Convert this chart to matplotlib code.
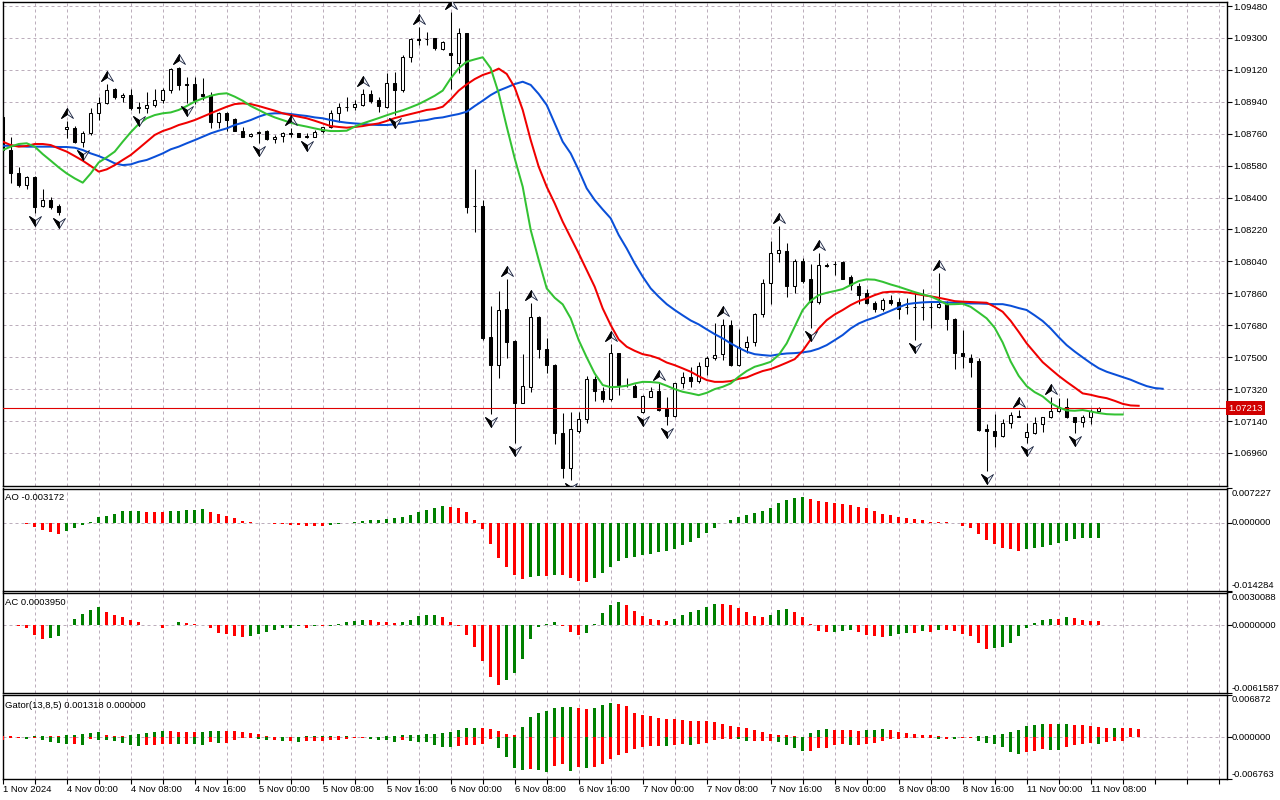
import numpy as np
import matplotlib.pyplot as plt
from matplotlib.path import Path

plt.rcParams['font.family'] = ['Liberation Sans', 'DejaVu Sans']

# ---------------- data (EURUSD H1) ----------------
opens = [1.08854, 1.08668, 1.08537, 1.08471, 1.08518, 1.08353, 1.08387, 1.08353, 1.08785, 1.08793,
         1.08715, 1.08762, 1.08875, 1.08932, 1.09010, 1.08965, 1.08978, 1.08909, 1.08903, 1.08920,
         1.08950, 1.09007, 1.09131, 1.09039, 1.09039, 1.08984, 1.08978, 1.08828, 1.08875, 1.08841,
         1.08777, 1.08747, 1.08762, 1.08774, 1.08732, 1.08747, 1.08762, 1.08762, 1.08744, 1.08744,
         1.08776, 1.08800, 1.08875, 1.08909, 1.08909, 1.08922, 1.08982, 1.08950, 1.08913, 1.09044,
         1.09007, 1.09191, 1.09292, 1.09296, 1.09298, 1.09236, 1.09217, 1.09161, 1.09326, 1.08355,
         1.08355, 1.07613, 1.07455, 1.07770, 1.07592, 1.07244, 1.07334, 1.07725, 1.07545, 1.07458,
         1.07075, 1.06878, 1.07086, 1.07150, 1.07376, 1.07308, 1.07267, 1.07522, 1.07346, 1.07338,
         1.07193, 1.07278, 1.07310, 1.07207, 1.07171, 1.07357, 1.07391, 1.07368, 1.07453, 1.07494,
         1.07517, 1.07680, 1.07455, 1.07556, 1.07584, 1.07742, 1.07917, 1.08086, 1.08101, 1.07902,
         1.08041, 1.07939, 1.07812, 1.08018, 1.08026, 1.08037, 1.07951, 1.07902, 1.07860, 1.07808,
         1.07774, 1.07823, 1.07812, 1.07785, 1.07785, 1.07783, 1.07782, 1.07782, 1.07800, 1.07718,
         1.07522, 1.07494, 1.07479, 1.07096, 1.07083, 1.07056, 1.07128, 1.07169, 1.07049, 1.07071,
         1.07122, 1.07161, 1.07195, 1.07222, 1.07161, 1.07133, 1.07165, 1.07199]
highs = [1.08866, 1.08744, 1.08575, 1.08522, 1.08522, 1.08449, 1.08405, 1.08364, 1.08834, 1.08804,
         1.08777, 1.08903, 1.08969, 1.09041, 1.09016, 1.08988, 1.09010, 1.08941, 1.08997, 1.09010,
         1.09016, 1.09131, 1.09138, 1.09082, 1.09078, 1.09074, 1.08997, 1.08885, 1.08885, 1.08849,
         1.08800, 1.08766, 1.08777, 1.08781, 1.08753, 1.08772, 1.08791, 1.08766, 1.08762, 1.08781,
         1.08800, 1.08894, 1.08932, 1.08965, 1.08950, 1.09010, 1.09007, 1.08969, 1.09101, 1.09110,
         1.09204, 1.09298, 1.09360, 1.09332, 1.09302, 1.09285, 1.09448, 1.09354, 1.09330, 1.08560,
         1.08387, 1.07789, 1.07874, 1.07939, 1.07597, 1.07518, 1.07808, 1.07733, 1.07611, 1.07462,
         1.07188, 1.07193, 1.07193, 1.07394, 1.07394, 1.07334, 1.07573, 1.07526, 1.07381, 1.07349,
         1.07286, 1.07334, 1.07357, 1.07278, 1.07350, 1.07419, 1.07447, 1.07475, 1.07504, 1.07695,
         1.07714, 1.07710, 1.07659, 1.07620, 1.07748, 1.07939, 1.08157, 1.08240, 1.08146, 1.08052,
         1.08058, 1.08026, 1.08086, 1.08030, 1.08045, 1.08045, 1.07962, 1.07917, 1.07887, 1.07819,
         1.07832, 1.07851, 1.07832, 1.07832, 1.07870, 1.07887, 1.07814, 1.07973, 1.07819, 1.07722,
         1.07654, 1.07517, 1.07498, 1.07124, 1.07180, 1.07150, 1.07190, 1.07203, 1.07128, 1.07161,
         1.07165, 1.07278, 1.07269, 1.07269, 1.07165, 1.07175, 1.07210, 1.07218]
lows = [1.08659, 1.08484, 1.08462, 1.08451, 1.08311, 1.08349, 1.08334, 1.08302, 1.08734, 1.08706,
        1.08687, 1.08753, 1.08838, 1.08928, 1.08958, 1.08941, 1.08894, 1.08875, 1.08879, 1.08913,
        1.08932, 1.08988, 1.09007, 1.08932, 1.08928, 1.08950, 1.08791, 1.08794, 1.08777, 1.08774,
        1.08740, 1.08740, 1.08706, 1.08725, 1.08710, 1.08715, 1.08744, 1.08740, 1.08734, 1.08740,
        1.08762, 1.08791, 1.08828, 1.08890, 1.08894, 1.08917, 1.08932, 1.08885, 1.08903, 1.08866,
        1.08997, 1.09166, 1.09260, 1.09260, 1.09232, 1.09232, 1.09010, 1.09104, 1.08311, 1.08204,
        1.07597, 1.07180, 1.07381, 1.07494, 1.07015, 1.07240, 1.07306, 1.07494, 1.07410, 1.07009,
        1.06818, 1.06808, 1.07071, 1.07131, 1.07255, 1.07250, 1.07255, 1.07287, 1.07334, 1.07274,
        1.07184, 1.07274, 1.07199, 1.07118, 1.07165, 1.07325, 1.07334, 1.07353, 1.07400, 1.07485,
        1.07485, 1.07451, 1.07451, 1.07522, 1.07564, 1.07729, 1.07800, 1.08039, 1.07838, 1.07860,
        1.07917, 1.07663, 1.07800, 1.08007, 1.07964, 1.07939, 1.07879, 1.07800, 1.07800, 1.07757,
        1.07763, 1.07795, 1.07714, 1.07744, 1.07597, 1.07710, 1.07663, 1.07778, 1.07654, 1.07436,
        1.07438, 1.07391, 1.07086, 1.06861, 1.06991, 1.07049, 1.07100, 1.07161, 1.07015, 1.07066,
        1.07077, 1.07156, 1.07190, 1.07156, 1.07071, 1.07105, 1.07122, 1.07195]
closes = [1.08668, 1.08537, 1.08471, 1.08514, 1.08349, 1.08387, 1.08349, 1.08321, 1.08796, 1.08715,
          1.08762, 1.08875, 1.08932, 1.09007, 1.08965, 1.08977, 1.08903, 1.08905, 1.08920, 1.08950,
          1.09007, 1.09127, 1.09035, 1.09033, 1.08950, 1.08973, 1.08828, 1.08875, 1.08838, 1.08777,
          1.08744, 1.08759, 1.08772, 1.08729, 1.08744, 1.08762, 1.08760, 1.08744, 1.08745, 1.08772,
          1.08796, 1.08875, 1.08909, 1.08910, 1.08926, 1.08982, 1.08947, 1.08917, 1.09044, 1.09007,
          1.09191, 1.09292, 1.09289, 1.09292, 1.09242, 1.09279, 1.09204, 1.09326, 1.08349, 1.08353,
          1.07611, 1.07458, 1.07765, 1.07588, 1.07240, 1.07338, 1.07725, 1.07545, 1.07458, 1.07075,
          1.06874, 1.07094, 1.07150, 1.07376, 1.07308, 1.07267, 1.07522, 1.07344, 1.07342, 1.07278,
          1.07282, 1.07310, 1.07203, 1.07171, 1.07357, 1.07391, 1.07368, 1.07453, 1.07494, 1.07513,
          1.07680, 1.07455, 1.07560, 1.07584, 1.07742, 1.07917, 1.08086, 1.08103, 1.07902, 1.08041,
          1.07932, 1.07814, 1.08018, 1.08016, 1.08025, 1.07943, 1.07906, 1.07851, 1.07808, 1.07774,
          1.07823, 1.07808, 1.07770, 1.07784, 1.07783, 1.07782, 1.07781, 1.07800, 1.07714, 1.07522,
          1.07504, 1.07475, 1.07090, 1.07083, 1.07058, 1.07128, 1.07173, 1.07165, 1.07077, 1.07128,
          1.07161, 1.07195, 1.07222, 1.07161, 1.07133, 1.07165, 1.07197, 1.07213]

# Alligator (jaw shifted 8, teeth 5, lips 3 bars into the future)
jaw = [1.08692, 1.08692, 1.08691, 1.08687, 1.08687, 1.08687, 1.08687, 1.08685, 1.08685, 1.08681,
       1.08668, 1.08649, 1.08634, 1.08615, 1.08593, 1.08583, 1.08587, 1.08602, 1.08612, 1.08630,
       1.08649, 1.08672, 1.08687, 1.08706, 1.08724, 1.08743, 1.08762, 1.08777, 1.08790, 1.08809,
       1.08822, 1.08837, 1.08856, 1.08871, 1.08875, 1.08875, 1.08871, 1.08865, 1.08860, 1.08852,
       1.08847, 1.08837, 1.08828, 1.08822, 1.08818, 1.08815, 1.08811, 1.08809, 1.08809, 1.08813,
       1.08818, 1.08824, 1.08832, 1.08837, 1.08847, 1.08852, 1.08862, 1.08871, 1.08884, 1.08916,
       1.08946, 1.08978, 1.09003, 1.09021, 1.09040, 1.09053, 1.09035, 1.08984, 1.08922, 1.08818,
       1.08715, 1.08649, 1.08555, 1.08452, 1.08386, 1.08333, 1.08283, 1.08189, 1.08113, 1.08029,
       1.07954, 1.07888, 1.07841, 1.07799, 1.07766, 1.07736, 1.07707, 1.07685, 1.07657, 1.07630,
       1.07606, 1.07578, 1.07553, 1.07531, 1.07517, 1.07512, 1.07508, 1.07516, 1.07521, 1.07523,
       1.07527, 1.07534, 1.07548, 1.07568, 1.07596, 1.07625, 1.07662, 1.07690, 1.07709, 1.07724,
       1.07743, 1.07762, 1.07781, 1.07799, 1.07805, 1.07809, 1.07811, 1.07811, 1.07809, 1.07807,
       1.07805, 1.07803, 1.07803, 1.07801, 1.07799, 1.07799, 1.07790, 1.07777, 1.07766, 1.07736,
       1.07704, 1.07662, 1.07613, 1.07568, 1.07532, 1.07499, 1.07467, 1.07438, 1.07418, 1.07403,
       1.07388, 1.07373, 1.07354, 1.07337, 1.07326, 1.07322]
teeth = [1.08715, 1.08696, 1.08687, 1.08691, 1.08702, 1.08702, 1.08696, 1.08677, 1.08659, 1.08634,
         1.08608, 1.08578, 1.08546, 1.08559, 1.08583, 1.08612, 1.08640, 1.08677, 1.08715, 1.08753,
         1.08775, 1.08790, 1.08809, 1.08822, 1.08837, 1.08856, 1.08875, 1.08894, 1.08912, 1.08927,
         1.08931, 1.08927, 1.08916, 1.08903, 1.08890, 1.08875, 1.08865, 1.08856, 1.08847, 1.08833,
         1.08818, 1.08803, 1.08798, 1.08794, 1.08798, 1.08803, 1.08811, 1.08818, 1.08832, 1.08848,
         1.08860, 1.08871, 1.08882, 1.08894, 1.08899, 1.08912, 1.08954, 1.09003, 1.09038, 1.09068,
         1.09091, 1.09106, 1.09127, 1.09097, 1.09021, 1.08894, 1.08724, 1.08574, 1.08461, 1.08367,
         1.08264, 1.08175, 1.08085, 1.07991, 1.07897, 1.07775, 1.07681, 1.07600, 1.07559, 1.07536,
         1.07517, 1.07508, 1.07493, 1.07470, 1.07455, 1.07437, 1.07418, 1.07393, 1.07371, 1.07361,
         1.07361, 1.07365, 1.07378, 1.07386, 1.07405, 1.07422, 1.07433, 1.07450, 1.07469, 1.07489,
         1.07536, 1.07600, 1.07662, 1.07709, 1.07741, 1.07766, 1.07794, 1.07816, 1.07831, 1.07850,
         1.07865, 1.07869, 1.07869, 1.07865, 1.07858, 1.07850, 1.07843, 1.07835, 1.07826, 1.07816,
         1.07813, 1.07811, 1.07809, 1.07807, 1.07784, 1.07756, 1.07705, 1.07643, 1.07578, 1.07525,
         1.07472, 1.07433, 1.07395, 1.07361, 1.07329, 1.07296, 1.07288, 1.07277, 1.07269, 1.07254,
         1.07237, 1.07228, 1.07226]
lips = [1.08668, 1.08687, 1.08702, 1.08706, 1.08687, 1.08645, 1.08608, 1.08570, 1.08536, 1.08508,
        1.08484, 1.08536, 1.08598, 1.08627, 1.08659, 1.08715, 1.08768, 1.08815, 1.08847, 1.08865,
        1.08875, 1.08880, 1.08894, 1.08916, 1.08941, 1.08959, 1.08974, 1.08984, 1.08988, 1.08969,
        1.08946, 1.08916, 1.08894, 1.08871, 1.08852, 1.08837, 1.08822, 1.08809, 1.08800, 1.08790,
        1.08781, 1.08775, 1.08775, 1.08777, 1.08800, 1.08818, 1.08833, 1.08848, 1.08864, 1.08879,
        1.08892, 1.08909, 1.08927, 1.08950, 1.08974, 1.09003, 1.09072, 1.09129, 1.09166, 1.09179,
        1.09191, 1.09129, 1.08988, 1.08800, 1.08621, 1.08461, 1.08217, 1.08048, 1.07888, 1.07835,
        1.07798, 1.07719, 1.07596, 1.07499, 1.07408, 1.07343, 1.07331, 1.07333, 1.07339, 1.07352,
        1.07361, 1.07360, 1.07356, 1.07339, 1.07320, 1.07305, 1.07296, 1.07286, 1.07299, 1.07320,
        1.07333, 1.07352, 1.07390, 1.07422, 1.07446, 1.07459, 1.07474, 1.07512, 1.07578, 1.07672,
        1.07766, 1.07818, 1.07850, 1.07863, 1.07873, 1.07884, 1.07907, 1.07929, 1.07939, 1.07937,
        1.07925, 1.07910, 1.07897, 1.07882, 1.07867, 1.07854, 1.07843, 1.07822, 1.07798, 1.07799,
        1.07801, 1.07784, 1.07752, 1.07719, 1.07666, 1.07583, 1.07476, 1.07395, 1.07337, 1.07303,
        1.07279, 1.07241, 1.07217, 1.07200, 1.07198, 1.07202, 1.07194, 1.07185, 1.07179, 1.07177,
        1.07177]

fractal_up = [8, 13, 22, 36, 45, 52, 56, 63, 66, 76, 82, 90, 97, 102, 117, 127, 131]
fractal_down = [4, 7, 10, 17, 23, 32, 38, 49, 61, 64, 71, 80, 83, 101, 114, 123, 128, 134]

ao = [-0.000035, -0.000070, -0.000105, -0.000352, -0.000984, -0.001617, -0.002039, -0.002461, -0.001758, -0.001195,
      -0.000562, 0.000211, 0.001265, 0.001476, 0.001898, 0.002390, 0.002531, 0.002566, 0.002355, 0.002320,
      0.002285, 0.002390, 0.002531, 0.002671, 0.002742, 0.002812, 0.002320, 0.001898, 0.001476, 0.001055,
      0.000422, 0.000211, 0.000035, -0.000070, -0.000281, -0.000352, -0.000387, -0.000562, -0.000598, -0.000633,
      -0.000773, -0.000562, -0.000352, -0.000070, 0.000070, 0.000422, 0.000633, 0.000668, 0.000844, 0.001055,
      0.001265, 0.001687, 0.002320, 0.002742, 0.003164, 0.003585, 0.003374, 0.003164, 0.002320, 0.000633,
      -0.001406, -0.004570, -0.007522, -0.009420, -0.011107, -0.011951, -0.011529, -0.011178, -0.011248, -0.010967,
      -0.011107, -0.011740, -0.012373, -0.012443, -0.011740, -0.010686, -0.009420, -0.008155, -0.007522, -0.007311,
      -0.006889, -0.006679, -0.006257, -0.006046, -0.005624, -0.004780, -0.004148, -0.003304, -0.002250, -0.001195,
      -0.000141, 0.000633, 0.001265, 0.001687, 0.002109, 0.002531, 0.003164, 0.004218, 0.004851, 0.005273,
      0.005483, 0.005062, 0.004640, 0.004429, 0.004218, 0.004007, 0.003796, 0.003374, 0.003164, 0.002531,
      0.001898, 0.001687, 0.001265, 0.001055, 0.000844, 0.000633, 0.000211, 0.000176, 0.000070, -0.000035,
      -0.000773, -0.001195, -0.002461, -0.003656, -0.004499, -0.005413, -0.005624, -0.006046, -0.005624, -0.005413,
      -0.005202, -0.004780, -0.004359, -0.003937, -0.003515, -0.003304, -0.003234, -0.003172]

ac = [0.000015, 0.000061, -0.000031, -0.000245, -0.000826, -0.001193, -0.001102, -0.000918, 0.000031, 0.000612,
      0.001071, 0.001438, 0.001714, 0.001255, 0.000979, 0.000796, 0.000520, 0.000337, 0.000015, 0.000009,
      -0.000184, 0.000015, 0.000275, 0.000245, 0.000153, 0.000061, -0.000275, -0.000643, -0.000765, -0.000918,
      -0.001010, -0.000918, -0.000734, -0.000551, -0.000367, -0.000275, -0.000184, -0.000031, -0.000184, -0.000031,
      -0.000046, -0.000031, 0.000092, 0.000337, 0.000428, 0.000520, 0.000505, 0.000337, 0.000321, 0.000245,
      0.000337, 0.000520, 0.000887, 0.000979, 0.000995, 0.000796, 0.000337, -0.000031, -0.000826, -0.001928,
      -0.003244, -0.004682, -0.005416, -0.004957, -0.004315, -0.003029, -0.001193, -0.000122, 0.000153, 0.000337,
      -0.000061, -0.000551, -0.000826, -0.000643, 0.000092, 0.001163, 0.001897, 0.002173, 0.001897, 0.001346,
      0.000887, 0.000612, 0.000520, 0.000428, 0.000612, 0.000979, 0.001255, 0.001438, 0.001714, 0.001989,
      0.001974, 0.001897, 0.001622, 0.001255, 0.000887, 0.000796, 0.000979, 0.001438, 0.001530, 0.001255,
      0.000796, 0.000092, -0.000459, -0.000566, -0.000551, -0.000536, -0.000367, -0.000551, -0.000826, -0.000918,
      -0.001010, -0.000918, -0.000734, -0.000643, -0.000658, -0.000459, -0.000551, -0.000367, -0.000383, -0.000459,
      -0.000734, -0.000918, -0.001561, -0.002111, -0.002096, -0.001928, -0.001561, -0.000918, -0.000184, 0.000245,
      0.000520, 0.000612, 0.000597, 0.000796, 0.000704, 0.000520, 0.000428, 0.000395]

gator_up = [0.000271, 0.000162, 0.000054, 0.000027, 0.000162, 0.000271, 0.000216, 0.000162, 0.000325, 0.000433,
            0.000595, 0.000757, 0.000920, 0.000433, 0.000216, 0.000162, 0.000379, 0.000487, 0.000757, 0.000920,
            0.001082, 0.001055, 0.000920, 0.000893, 0.000866, 0.000920, 0.001082, 0.001109, 0.001082, 0.001028,
            0.000866, 0.000757, 0.000595, 0.000271, 0.000108, 0.000054, 0.000027, 0.000108, 0.000162, 0.000189,
            0.000216, 0.000243, 0.000162, 0.000189, 0.000108, 0.000081, 0.000108, 0.000135, 0.000162, 0.000189,
            0.000325, 0.000379, 0.000433, 0.000487, 0.000541, 0.000757, 0.000920, 0.001244, 0.001461, 0.001488,
            0.001461, 0.001298, 0.001082, 0.000541, 0.000325, 0.001623, 0.003246, 0.004003, 0.004328, 0.004761,
            0.004923, 0.004977, 0.004707, 0.004544, 0.004707, 0.005302, 0.005626, 0.005464, 0.005140, 0.004003,
            0.003679, 0.003517, 0.003192, 0.003057, 0.003030, 0.002867, 0.002705, 0.002678, 0.002651, 0.002543,
            0.002218, 0.001894, 0.001623, 0.001461, 0.001136, 0.000812, 0.000487, 0.000433, 0.000325, 0.000162,
            0.000135, 0.000649, 0.001136, 0.001298, 0.001271, 0.001244, 0.001136, 0.001109, 0.001136, 0.001163,
            0.001298, 0.001136, 0.000812, 0.000649, 0.000487, 0.000325, 0.000298, 0.000162, 0.000135, 0.000054,
            0.000027, 0.000054, 0.000162, 0.000216, 0.000325, 0.000487, 0.000812, 0.001136, 0.001785, 0.002056,
            0.002218, 0.002191, 0.002218, 0.002245, 0.002056, 0.001948, 0.001785, 0.001623, 0.001515, 0.001542,
            0.001515, 0.001461, 0.001318]
gator_down = [0.000487, 0.000108, 0.000054, 0.000271, 0.000054, 0.000487, 0.000812, 0.000974, 0.001136, 0.001082,
              0.001298, 0.000216, 0.000433, 0.000460, 0.000595, 0.000974, 0.001298, 0.001407, 0.001190, 0.001163,
              0.001028, 0.001001, 0.001028, 0.001001, 0.001136, 0.001163, 0.000812, 0.000920, 0.000866, 0.000487,
              0.000162, 0.000108, 0.000271, 0.000487, 0.000433, 0.000595, 0.000568, 0.000703, 0.000649, 0.000541,
              0.000514, 0.000487, 0.000433, 0.000325, 0.000162, 0.000054, 0.000271, 0.000433, 0.000487, 0.000703,
              0.000487, 0.000649, 0.000703, 0.000812, 0.001298, 0.001515, 0.001623, 0.001407, 0.001298, 0.001190,
              0.001028, 0.000216, 0.001677, 0.003246, 0.004923, 0.005356, 0.005194, 0.005302, 0.005681, 0.004653,
              0.004382, 0.005410, 0.004869, 0.004977, 0.004761, 0.004382, 0.003571, 0.002921, 0.002489, 0.001948,
              0.001623, 0.001461, 0.001434, 0.001461, 0.001298, 0.001136, 0.001298, 0.001136, 0.000974, 0.000487,
              0.000271, 0.000216, 0.000325, 0.000649, 0.000622, 0.000595, 0.000568, 0.000812, 0.001298, 0.001785,
              0.002272, 0.002245, 0.001785, 0.001758, 0.001298, 0.001136, 0.001298, 0.001271, 0.001136, 0.000974,
              0.000649, 0.000325, 0.000216, 0.000162, 0.000108, 0.000081, 0.000054, 0.000325, 0.000216, 0.000325,
              0.000162, 0.000108, 0.000649, 0.000974, 0.001136, 0.001623, 0.002435, 0.002759, 0.002435, 0.002272,
              0.001948, 0.001975, 0.002002, 0.001623, 0.001298, 0.001136, 0.000974, 0.001001, 0.000812, 0.000649,
              0.000622]

bid = 1.07213
price_ticks = [1.09480, 1.09300, 1.09120, 1.08940, 1.08760, 1.08580, 1.08400, 1.08220,
               1.08040, 1.07860, 1.07680, 1.07500, 1.07320, 1.07140, 1.06960]
time_pos = [0, 8, 16, 24, 32, 40, 48, 56, 64, 72, 80, 88, 96, 104, 112, 120, 128, 136]
time_labels = ['1 Nov 2024', '4 Nov 00:00', '4 Nov 08:00', '4 Nov 16:00', '5 Nov 00:00',
               '5 Nov 08:00', '5 Nov 16:00', '6 Nov 00:00', '6 Nov 08:00', '6 Nov 16:00',
               '7 Nov 00:00', '7 Nov 08:00', '7 Nov 16:00', '8 Nov 00:00', '8 Nov 08:00',
               '8 Nov 16:00', '11 Nov 00:00', '11 Nov 08:00']

# ---------------- style ----------------
GREEN = '#008000'
RED = '#ff0000'
GRID = dict(color='#bcaebc', lw=0.72, ls=(0, (3, 3)))
FS = 6.8
W, H = 1280, 800


def box(x0, y0, x1, y1):
    return [x0 / W, 1 - y1 / H, (x1 - x0) / W, (y1 - y0) / H]


def trend_colors(vals, first):
    cols = [first]
    for i in range(1, len(vals)):
        cols.append(GREEN if vals[i] > vals[i - 1] else RED)
    return cols


fig = plt.figure(figsize=(12.8, 8), dpi=100)
ax = fig.add_axes(box(2.5, 1.5, 1226.5, 486))
ax_ao = fig.add_axes(box(2.5, 488.5, 1226.5, 590.5), sharex=ax)
ax_ac = fig.add_axes(box(2.5, 592.5, 1226.5, 693), sharex=ax)
ax_g = fig.add_axes(box(2.5, 695, 1226.5, 779), sharex=ax)

for a in (ax, ax_ao, ax_ac, ax_g):
    a.set_xlim(-0.03, 152.98)
    a.set_xticks(range(0, 153, 4))
    a.grid(True, axis='x', **GRID)
    a.set_axisbelow(True)
    a.tick_params(axis='x', length=0, labelbottom=False)
    for s in a.spines.values():
        s.set_color('black')
        s.set_linewidth(1.0)

# ---------------- main price panel ----------------
x = np.arange(len(opens))
o = np.array(opens)
c = np.array(closes)
ax.vlines(x, lows, highs, color='black', lw=0.75, zorder=2)
body_col = ['white' if cc > oo else 'black' for oo, cc in zip(o, c)]
ax.bar(x, np.abs(c - o), bottom=np.minimum(o, c), width=0.32, color=body_col,
       edgecolor='black', linewidth=0.75, zorder=3)

ax.plot(np.arange(len(jaw)), jaw, color='#0a4fd8', lw=1.45, zorder=4)
ax.plot(np.arange(len(teeth)), teeth, color='#f00000', lw=1.45, zorder=4)
ax.plot(np.arange(len(lips)), lips, color='#33c233', lw=1.45, zorder=4)

# fractal arrows: outlined arrowhead with the left half filled black
codes4 = [Path.MOVETO, Path.LINETO, Path.LINETO, Path.LINETO, Path.CLOSEPOLY]
codes3 = [Path.MOVETO, Path.LINETO, Path.LINETO, Path.CLOSEPOLY]
up_full = Path([(0, 13), (6, 3), (0, 7), (-6, 3), (0, 13)], codes4)
up_half = Path([(0, 13), (0, 7), (-6, 3), (0, 13)], codes3)
dn_full = Path([(0, -13), (6, -3), (0, -7), (-6, -3), (0, -13)], codes4)
dn_half = Path([(0, -13), (0, -7), (-6, -3), (0, -13)], codes3)
hi = np.array(highs)
lo = np.array(lows)
for mk, face, edge, idx, yv in ((up_full, '#f4f6fb', '#1b2440', fractal_up, hi),
                                (up_half, 'black', 'black', fractal_up, hi),
                                (dn_full, '#f4f6fb', '#1b2440', fractal_down, lo),
                                (dn_half, 'black', 'black', fractal_down, lo)):
    ax.plot(idx, yv[idx], ls='none', marker=mk, ms=18.7, mfc=face, mec=edge,
            mew=0.6, zorder=5)

ax.axhline(bid, color='#e00000', lw=0.8, zorder=3)
ax.text(1.0015, bid, f'{bid:.5f}', transform=ax.get_yaxis_transform(), color='white',
        fontsize=FS, va='center', ha='left', clip_on=False,
        bbox=dict(boxstyle='square,pad=0.25', facecolor='#d10000', edgecolor='none'))

ax.set_ylim(1.067738, 1.095054)
ax.set_yticks(price_ticks)
ax.set_yticklabels([f'{p:.5f}' for p in price_ticks])
ax.yaxis.tick_right()
ax.tick_params(axis='y', length=3.5, width=0.8, pad=1.5, labelsize=FS)
ax.grid(True, axis='y', **GRID)


# ---------------- oscillator panels ----------------
def panel_scale(a, ymin, ymax, labels):
    a.set_ylim(ymin, ymax)
    a.set_yticks([ymin, 0, ymax])
    a.yaxis.tick_right()
    a.tick_params(axis='y', length=3.5, width=0.8, labelright=False)
    a.axhline(0, **GRID)
    tr = a.get_yaxis_transform()
    a.text(1.0045, ymax, labels[0], transform=tr, va='top', ha='left', fontsize=FS, clip_on=False)
    a.text(1.0045, 0, labels[1], transform=tr, va='center', ha='left', fontsize=FS, clip_on=False)
    a.text(1.0045, ymin, labels[2], transform=tr, va='bottom', ha='left', fontsize=FS, clip_on=False)


ax_ao.bar(np.arange(len(ao)), ao, width=0.38, color=trend_colors(ao, RED), zorder=3)
panel_scale(ax_ao, -0.014284, 0.007227, ['0.007227', '0.000000', '-0.014284'])
ax_ao.text(0.002, 0.915, 'AO -0.003172', transform=ax_ao.transAxes, fontsize=FS, va='center')

ax_ac.bar(np.arange(len(ac)), ac, width=0.38, color=trend_colors(ac, GREEN), zorder=3)
panel_scale(ax_ac, -0.0061587, 0.0030088, ['0.0030088', '0.0000000', '-0.0061587'])
ax_ac.text(0.002, 0.9, 'AC 0.0003950', transform=ax_ac.transAxes, fontsize=FS, va='center')

gd = np.array(gator_down)
ax_g.bar(np.arange(len(gator_up)), gator_up, width=0.4, color=trend_colors(gator_up, RED), zorder=3)
ax_g.bar(np.arange(len(gd)), -gd, width=0.4, color=trend_colors(gator_down, RED), zorder=3)
panel_scale(ax_g, -0.006763, 0.006872, ['0.006872', '0.000000', '-0.006763'])
ax_g.text(0.002, 0.875, 'Gator(13,8,5) 0.001318 0.000000', transform=ax_g.transAxes,
          fontsize=FS, va='center')

# time axis along the bottom
ax_g.tick_params(axis='x', length=3.5, width=0.8, direction='out')
for pos, lab in zip(time_pos, time_labels):
    ax_g.text(pos, -0.12, lab, transform=ax_g.get_xaxis_transform(), ha='left',
              va='center', fontsize=FS, clip_on=False)

fig.savefig('out.png', dpi=100)
